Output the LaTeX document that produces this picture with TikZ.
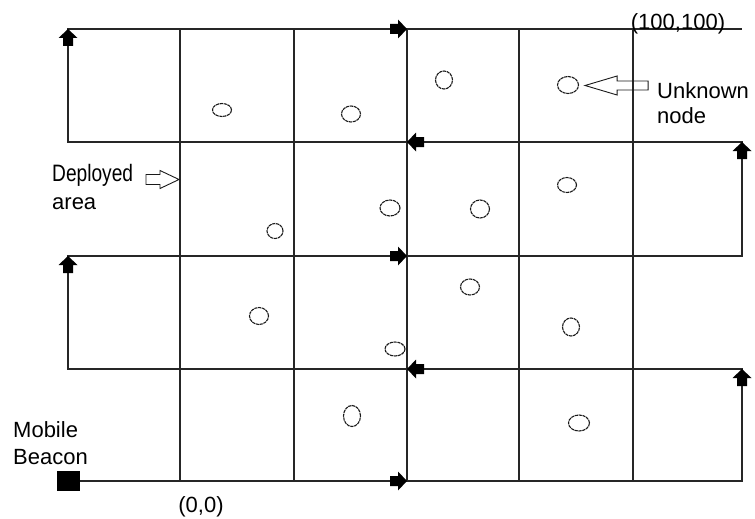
\documentclass[tikz,border=0pt]{standalone}
\usepackage{fontspec}
\setmainfont{Liberation Sans}
\usetikzlibrary{shapes.geometric,calc}
\tikzset{
  blk/.pic={\fill[black] (0,0) -- (-9,-9.5) -- (-9,-5) -- (-17,-5) -- (-17,5) -- (-9,5) -- (-9,9.5) -- cycle;}
}
\begin{document}
\begin{tikzpicture}[x=1pt,y=-1pt,
  gridline/.style={line width=1.6pt,draw=black!85},
  route/.style={line width=1.6pt,draw=black!85},
  unode/.style={draw=black!90,ellipse,inner sep=0pt,line width=1.1pt,dash pattern=on 3.2pt off 0.7pt},
  hollow/.style={draw=black!90,line width=0.9pt,line join=miter},
  lbl/.style={font=\fontsize{22}{25}\selectfont,inner sep=0pt,align=left,text=black}
]
\useasboundingbox (0,0) rectangle (755,519);

% grid columns
\foreach \x in {180,294,407,519,633}
  \draw[gridline] (\x,29) -- (\x,481);

% mobile beacon and the turning points of its route
\node[fill=black,minimum width=23pt,minimum height=20pt,inner sep=0pt] (beacon) at (68.5,481) {};
\coordinate (c1) at (742,481);
\coordinate (c2) at (742,369);
\coordinate (c3) at (68,369);
\coordinate (c4) at (68,256);
\coordinate (c5) at (742,256);
\coordinate (c6) at (742,142);
\coordinate (c7) at (68,142);
\coordinate (c8) at (68,29);
\coordinate (c9) at (742,29);
\draw[route] (beacon) -- (c1) -- (c2) -- (c3) -- (c4) -- (c5) -- (c6) -- (c7) -- (c8) -- (c9);

% direction marks along the route
\pic[rotate=90] at (c2) {blk};
\pic[rotate=90] at (c4) {blk};
\pic[rotate=90] at (c6) {blk};
\pic[rotate=90] at (c8) {blk};
\pic at (407,481) {blk};
\pic[rotate=180] at (407,369) {blk};
\pic at (407,256) {blk};
\pic[rotate=180] at (407,142) {blk};
\pic at (407,29) {blk};

% unknown nodes
\node[unode,minimum width=19pt,minimum height=13pt] (u1) at (222,110) {};
\node[unode,minimum width=19pt,minimum height=16pt] (u2) at (351,114) {};
\node[unode,minimum width=17pt,minimum height=18pt] (u3) at (444,80) {};
\node[unode,minimum width=21pt,minimum height=17pt] (u4) at (568,85) {};
\node[unode,minimum width=19pt,minimum height=15pt] (u5) at (567,185) {};
\node[unode,minimum width=20pt,minimum height=16pt] (u6) at (390,208) {};
\node[unode,minimum width=19pt,minimum height=18pt] (u7) at (480,209) {};
\node[unode,minimum width=16pt,minimum height=15pt] (u8) at (275,231) {};
\node[unode,minimum width=19pt,minimum height=16pt] (u9) at (470,287) {};
\node[unode,minimum width=19pt,minimum height=17pt] (u10) at (259,316) {};
\node[unode,minimum width=17pt,minimum height=18pt] (u11) at (571,327) {};
\node[unode,minimum width=20pt,minimum height=14pt] (u12) at (395,349) {};
\node[unode,minimum width=17pt,minimum height=21pt] (u13) at (352,416) {};
\node[unode,minimum width=21pt,minimum height=16pt] (u14) at (579,423) {};

% labels
\node[lbl,anchor=base] (topright) at (678,30) {(100,100)};
\node[lbl,anchor=base] (origin) at (201,512) {(0,0)};
\node[lbl,anchor=north west] (unk) at (657,82) {Unknown\\node};
\node[lbl,anchor=north west,font=\fontsize{22}{27}\selectfont] (mob) at (13,421) {Mobile\\Beacon};
\node[lbl,anchor=north west,font=\fontsize{22}{28}\selectfont] (dep) at (52,164) {\scalebox{0.87}[1.08]{Deployed}\\area};

% hollow pointer arrows
\coordinate (utip) at ($(u4.east)+(6,0.5)$);
\draw[hollow] (utip) -- ++(32,-9.5) -- ++(0,5) -- ++(31,0) -- ++(0,9) -- ++(-31,0) -- ++(0,5) -- cycle;
\coordinate (dtip) at (179,179.5);
\draw[hollow] (dtip) -- ++(-19,-9) -- ++(0,4) -- ++(-14,0) -- ++(0,10) -- ++(14,0) -- ++(0,4) -- cycle;
\end{tikzpicture}
\end{document}
